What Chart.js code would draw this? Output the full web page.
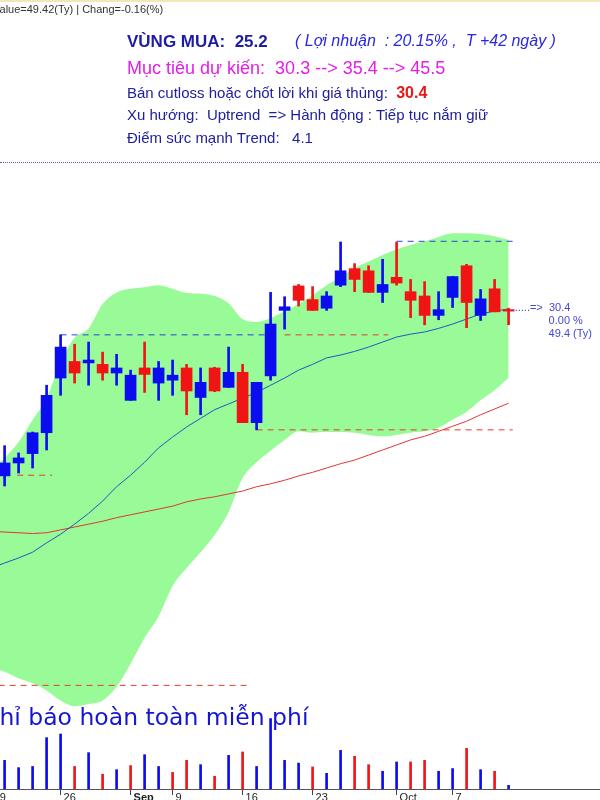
<!DOCTYPE html>
<html>
<head>
<meta charset="utf-8">
<script src="https://cdn.jsdelivr.net/npm/chart.js@4.4.1/dist/chart.umd.min.js"></script>
<style>
  html, body { margin: 0; padding: 0; background: #fff; }
  body { width: 600px; height: 800px; overflow: hidden; position: relative; font-family: 'Liberation Sans', Arial, sans-serif; }
  #wrap { position: absolute; left: -20px; top: 0; width: 620px; height: 800px; }
  #topbar { position: absolute; left: 0; top: 0; width: 600px; height: 2px; background: #f4e7b6; }
  .txt { position: absolute; white-space: pre; }
  #value { left: -7px; top: 4px; font-size: 11px; line-height: 11px; color: #333; }
  #buy { left: 127px; top: 33px; font-size: 17px; line-height: 17px; font-weight: bold; color: #1c1ca6; }
  #profit { left: 295px; top: 33px; font-size: 16px; line-height: 16px; font-style: italic; color: #2828e0; }
  #target { left: 127px; top: 59px; font-size: 18px; line-height: 18px; color: #e41ee4; }
  .navy { left: 127px; font-size: 15px; line-height: 15px; color: #20209e; }
  #cut b { color: #e81818; font-size: 16px; }
  #sep { position: absolute; left: 0; top: 162px; width: 600px; border-top: 1px dotted #5b5bd6; }
  #promo { left: -17px; top: 706px; font-family: 'DejaVu Sans', sans-serif; font-size: 23.5px; line-height: 23px; color: #1414d2; }
</style>
</head>
<body>
<div id="wrap"><canvas id="chart" width="620" height="800"></canvas></div>
<div id="topbar"></div>
<div class="txt" id="value">Value=49.42(Ty) | Chang=-0.16(%)</div>
<div class="txt" id="buy">VÙNG MUA:  25.2</div>
<div class="txt" id="profit">( Lợi nhuận  : 20.15% ,  T +42 ngày )</div>
<div class="txt" id="target">Mục tiêu dự kiến:  30.3 --> 35.4 --> 45.5</div>
<div class="txt navy" id="cut" style="top:85px">Bán cutloss hoặc chốt lời khi giá thủng:  <b>30.4</b></div>
<div class="txt navy" style="top:107px">Xu hướng:  Uptrend  => Hành động : Tiếp tục nắm giữ</div>
<div class="txt navy" style="top:130px">Điểm sức mạnh Trend:   4.1</div>
<div id="sep"></div>
<div class="txt" id="promo">Chỉ báo hoàn toàn miễn phí</div>

<script>
'use strict';

// ***** DATA *****
let days = ['2024-08-19', '2024-08-20', '2024-08-21', '2024-08-22', '2024-08-23',
    '2024-08-26', '2024-08-27', '2024-08-28', '2024-08-29', '2024-08-30',
    '2024-09-04', '2024-09-05', '2024-09-06', '2024-09-09', '2024-09-10',
    '2024-09-11', '2024-09-12', '2024-09-13', '2024-09-16', '2024-09-17',
    '2024-09-18', '2024-09-19', '2024-09-20', '2024-09-23', '2024-09-24',
    '2024-09-25', '2024-09-26', '2024-09-27', '2024-09-30', '2024-10-01',
    '2024-10-02', '2024-10-03', '2024-10-04', '2024-10-07', '2024-10-08',
    '2024-10-09', '2024-10-10', '2024-10-11'];

// first day is off the left edge of the picture
let openP = [null, 28.11, 28.29, 28.42, 28.71, 29.47, 29.70, 29.68, 29.66, 29.54,
    29.16, 29.61, 29.40, 29.44, 29.61, 29.20, 29.61, 29.34, 29.55, 28.85,
    29.50, 30.41, 30.75, 30.56, 30.44, 30.76, 30.99, 30.96, 30.66, 30.87,
    30.67, 30.61, 30.34, 30.59, 31.03, 30.34, 30.71, 30.42];
let highP = [null, 28.53, 28.43, 28.72, 29.37, 30.07, 29.94, 29.97, 29.83, 29.80,
    29.58, 29.97, 29.70, 29.72, 29.66, 29.61, 29.62, 29.90, 29.66, 29.41,
    30.66, 30.60, 30.77, 30.74, 30.67, 31.36, 31.06, 31.03, 31.12, 31.36,
    30.84, 30.81, 30.67, 30.88, 31.05, 30.70, 30.84, 30.44];
let lowP = [null, 27.97, 28.15, 28.22, 28.47, 29.23, 29.40, 29.37, 29.44, 29.37,
    29.16, 29.27, 29.16, 29.23, 28.96, 28.96, 29.28, 29.34, 28.85, 28.75,
    29.44, 30.15, 30.47, 30.41, 30.41, 30.74, 30.67, 30.66, 30.52, 30.76,
    30.31, 30.21, 30.28, 30.45, 30.17, 30.27, 30.39, 30.21];
let closeP = [null, 28.29, 28.36, 28.71, 29.23, 29.90, 29.54, 29.72, 29.54, 29.61,
    29.51, 29.52, 29.61, 29.51, 29.29, 29.41, 29.29, 29.55, 28.85, 29.41,
    30.22, 30.46, 30.55, 30.41, 30.61, 30.96, 30.84, 30.66, 30.77, 30.79,
    30.55, 30.34, 30.42, 30.88, 30.52, 30.57, 30.39, 30.40];
// volume, million shares
let volume = [null, 12.6, 9.4, 9.9, 22.6, 24.2, 9.9, 16.0, 6.5, 8.5,
    10.3, 15.1, 9.9, 7.3, 12.6, 10.7, 5.6, 14.8, 16.3, 9.9,
    31.0, 12.6, 11.4, 9.7, 6.9, 17.0, 14.4, 10.7, 7.8, 11.9,
    11.9, 12.6, 7.8, 9.0, 17.9, 8.5, 7.8, 1.6];

let ma20 = [26.83, 26.90, 26.97, 27.05, 27.18, 27.30, 27.44, 27.59, 27.76, 27.96,
    28.12, 28.30, 28.50, 28.65, 28.79, 28.91, 29.03, 29.11, 29.19, 29.27,
    29.37, 29.47, 29.58, 29.66, 29.75, 29.79, 29.84, 29.90, 29.97, 30.04,
    30.08, 30.11, 30.16, 30.22, 30.29, 30.36, 30.40, 30.43];
let ma50 = [27.34, 27.33, 27.32, 27.31, 27.32, 27.36, 27.40, 27.44, 27.48, 27.53,
    27.57, 27.61, 27.65, 27.69, 27.75, 27.79, 27.82, 27.86, 27.90, 27.96,
    28.00, 28.05, 28.11, 28.16, 28.22, 28.28, 28.33, 28.40, 28.47, 28.54,
    28.61, 28.66, 28.73, 28.80, 28.87, 28.96, 29.04, 29.12];
let bandUp = [28.19, 28.36, 28.58, 28.89, 29.19, 29.69, 30.03, 30.16, 30.50, 30.66,
    30.71, 30.73, 30.76, 30.71, 30.65, 30.64, 30.61, 30.51, 30.29, 30.25,
    30.30, 30.40, 30.50, 30.62, 30.76, 30.87, 31.00, 31.09, 31.18, 31.26,
    31.32, 31.37, 31.43, 31.48, 31.48, 31.47, 31.44, 31.39];
let bandLow = [25.44, 25.39, 25.30, 25.23, 25.13, 24.99, 24.91, 24.94, 24.99, 25.18,
    25.50, 25.86, 26.16, 26.58, 26.83, 27.05, 27.29, 27.61, 28.08, 28.30,
    28.46, 28.61, 28.73, 28.71, 28.72, 28.72, 28.71, 28.68, 28.66, 28.68,
    28.71, 28.73, 28.78, 28.89, 29.00, 29.16, 29.30, 29.47];

// x-axis ticks (day index) and their labels
let tickIdx = [0, 5, 10, 13, 18, 23, 29, 33];
let tickText = ['19', '26', 'Sep', '9', '16', '23', 'Oct', '7'];

// support / resistance lines (price, from day, to day)
let levelPrice = [30.07, 30.07, 28.75, 28.12, 31.37, 25.2];
let levelFrom = [5, 21, 19, 1.9, 29, -1];
let levelTo = [20, 28.4, 37.3, 4.4, 37.3, 18.5];
let levelKind = ['res', 'sup', 'sup', 'sup', 'res', 'sup'];

let lastChange = '0.00 %';
let lastValue = 49.4;

// ***** HELPERS *****
const UP = '#0c0cf0';
const DOWN = '#f01414';

let rows = [];
for (let i = 0; i < days.length; i++) {
    if (openP[i] !== null) rows.push(i);
}

function candleColor(i) {
    return closeP[i] >= openP[i] ? UP : DOWN;
}

function volColor(i) {
    let ref = closeP[i - 1] == null ? openP[i] : closeP[i - 1];
    return closeP[i] >= ref ? UP : DOWN;
}

function series(arr) {
    return arr.map((v, i) => ({ x: i, y: v }));
}

let datasets = [];

datasets.push({
    type: 'bar', label: 'vol', yAxisID: 'yv', order: 0, grouped: false,
    data: rows.map(i => ({ x: i, y: volume[i] })),
    backgroundColor: rows.map(volColor), barThickness: 2
});
datasets.push({
    type: 'bar', label: 'body', yAxisID: 'y', order: 1, grouped: false,
    data: rows.map(i => ({ x: i, y: [openP[i], closeP[i]] })),
    backgroundColor: rows.map(candleColor), barThickness: 11
});
datasets.push({
    type: 'bar', label: 'wick', yAxisID: 'y', order: 2, grouped: false,
    data: rows.map(i => ({ x: i, y: [lowP[i], highP[i]] })),
    backgroundColor: rows.map(candleColor), barThickness: 2
});
datasets.push({
    type: 'line', label: 'MA20', yAxisID: 'y', order: 3,
    data: series(ma20), borderColor: '#2157c4', borderWidth: 1, pointRadius: 0, fill: false
});
datasets.push({
    type: 'line', label: 'MA50', yAxisID: 'y', order: 4,
    data: series(ma50), borderColor: '#e23434', borderWidth: 1, pointRadius: 0, fill: false
});
for (let j = 0; j < levelPrice.length; j++) {
    datasets.push({
        type: 'line', label: 'level' + j, yAxisID: 'y', order: 5,
        data: [{ x: levelFrom[j], y: levelPrice[j] }, { x: levelTo[j], y: levelPrice[j] }],
        borderColor: levelKind[j] === 'res' ? '#2b45d8' : '#e53a2a',
        borderWidth: 1, borderDash: [6, 5], pointRadius: 0, fill: false
    });
}
datasets.push({
    type: 'line', label: 'upper', yAxisID: 'y', order: 8,
    data: series(bandUp), borderWidth: 0, pointRadius: 0,
    cubicInterpolationMode: 'monotone', fill: '+1', backgroundColor: '#98fb98'
});
datasets.push({
    type: 'line', label: 'lower', yAxisID: 'y', order: 9,
    data: series(bandLow), borderWidth: 0, pointRadius: 0,
    cubicInterpolationMode: 'monotone', fill: false
});

// ***** LAST PRICE LABEL *****
let lastLabel = {
    id: 'lastLabel',
    afterDatasetsDraw(chart) {
        let ctx = chart.ctx;
        let k = rows[rows.length - 1];
        let px = chart.scales.x.getPixelForValue(k);
        let py = chart.scales.y.getPixelForValue(closeP[k]);
        ctx.save();
        ctx.font = '11px "Liberation Sans", Arial';
        ctx.fillStyle = '#4646d2';
        ctx.textBaseline = 'middle';
        ctx.fillText('......=>  ' + closeP[k].toFixed(1), px + 3, py - 3);
        ctx.fillText(lastChange, px + 40, py + 10);
        ctx.fillText(lastValue.toFixed(1) + ' (Ty)', px + 40, py + 23);
        ctx.restore();
    }
};

// ***** CHART *****
new Chart(document.getElementById('chart'), {
    type: 'bar',
    data: { datasets: datasets },
    options: {
        responsive: false,
        animation: false,
        devicePixelRatio: 1,
        layout: { padding: { top: 165, left: 0, right: 0, bottom: 0 } },
        plugins: {
            legend: { display: false },
            tooltip: { enabled: false },
            filler: { drawTime: 'beforeDatasetsDraw' }
        },
        scales: {
            x: {
                type: 'linear',
                offset: false,
                min: -0.757,
                max: 43.529,
                afterBuildTicks: scale => { scale.ticks = tickIdx.map(v => ({ value: v })); },
                afterFit: scale => { scale.height = 11; },
                grid: { offset: false, drawOnChartArea: false, drawTicks: true, tickLength: 6, color: '#444' },
                border: { display: true, color: '#555' },
                ticks: {
                    autoSkip: false,
                    maxRotation: 0,
                    align: 'start',
                    labelOffset: 3,
                    padding: -4,
                    color: '#222',
                    font: c => ({ family: '"Liberation Sans", Arial', size: 11,
                        weight: tickText[c.index] === 'Sep' ? 'bold' : 'normal' }),
                    callback: v => {
                        let j = tickIdx.indexOf(v);
                        return j < 0 ? '' : tickText[j];
                    }
                }
            },
            y: { display: false, min: 23.76, max: 32.43 },
            yv: { display: false, min: 0, max: 274.6 }
        }
    },
    plugins: [lastLabel]
});
</script>
</body>
</html>
